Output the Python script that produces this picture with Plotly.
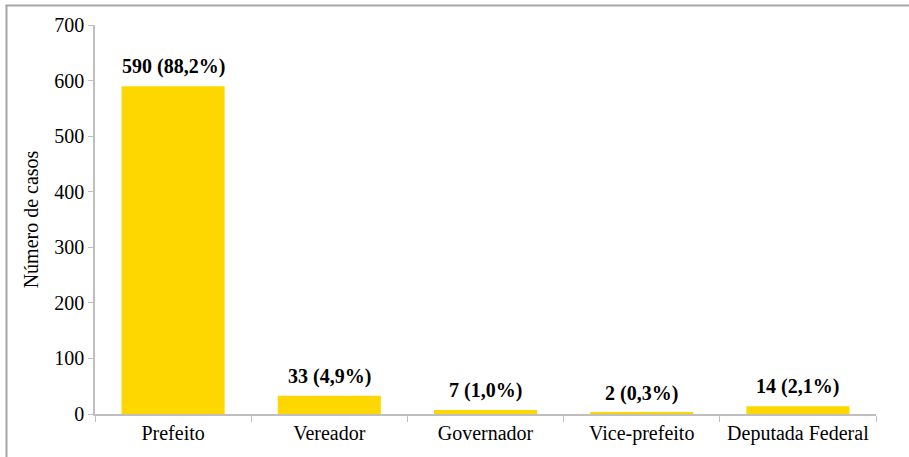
import plotly.graph_objects as go

categories = ["Prefeito", "Vereador", "Governador", "Vice-prefeito", "Deputada Federal"]
values = [590, 33, 7, 2, 14]
percents = ["88,2%", "4,9%", "1,0%", "0,3%", "2,1%"]
labels = [f"{v} ({p})" for v, p in zip(values, percents)]

W, H = 909, 457
ml, mr, mt, mb = 95, 33, 25, 41
pw, ph = W - ml - mr, H - mt - mb

fig = go.Figure(go.Bar(
    x=categories, y=values,
    marker=dict(color="#FFD700", line=dict(width=0)),
    hoverinfo="x+y",
))

for c, v, t in zip(categories, values, labels):
    fig.add_annotation(x=c, y=v, text=f"<b>{t}</b>", showarrow=False,
                       yanchor="bottom", yshift=6,
                       font=dict(family="Liberation Serif", size=20, color="black"))

def px_x(x):
    return (x - ml) / pw

def px_y(y):
    return (H - mb - y) / ph

border = "#A6A6A6"
fig.add_shape(type="line", xref="paper", yref="paper",
              x0=px_x(5.5), x1=px_x(912), y0=px_y(5.5), y1=px_y(5.5),
              line=dict(color=border, width=2))
fig.add_shape(type="line", xref="paper", yref="paper",
              x0=px_x(6.5), x1=px_x(6.5), y0=px_y(5), y1=px_y(460),
              line=dict(color=border, width=2))

fig.update_layout(
    width=W, height=H,
    margin=dict(l=ml, r=mr, t=mt, b=mb),
    paper_bgcolor="white", plot_bgcolor="white",
    bargap=0.34,
    showlegend=False,
    font=dict(family="Liberation Serif", size=20, color="black"),
    xaxis=dict(
        showline=True, linecolor="#BFBFBF", linewidth=1.5,
        ticks="outside", ticklen=6, tickcolor="#BFBFBF",
        tickson="boundaries", showgrid=False,
        tickfont=dict(size=20),
    ),
    yaxis=dict(
        range=[0, 700], dtick=100,
        showline=True, linecolor="#BFBFBF", linewidth=1.5,
        ticks="outside", ticklen=5, tickcolor="#BFBFBF",
        showgrid=False, zeroline=False,
        tickfont=dict(size=20),
        title=dict(text="Número de casos", font=dict(size=20), standoff=10),
    ),
)

fig.write_html("out.html", config={"displayModeBar": False},
               post_script="document.body.style.margin='0';")
